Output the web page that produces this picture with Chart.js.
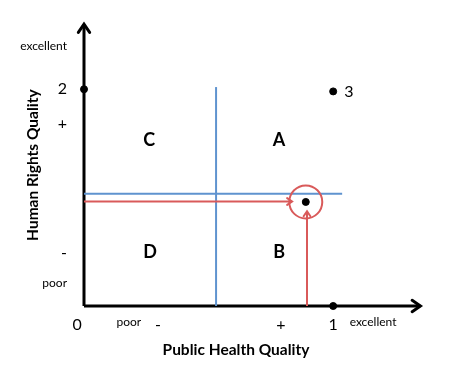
<!DOCTYPE html>
<html>
<head>
<meta charset="utf-8">
<script src="https://cdn.jsdelivr.net/npm/chart.js@4"></script>
<style>
  html, body { margin: 0; padding: 0; background: #fff; }
  #wrap { width: 453px; height: 375px; }
</style>
</head>
<body>
<div id="wrap"><canvas id="quadrant"></canvas></div>
<script>
// points on the plane (public health, human rights)
const pointX = [0, 1, 1, 0.89]
const pointY = [1, 0.99, 0, 0.48]
const pointNames = ['', '3', '', '']

// quadrant letters
const quadNames = ['C', 'A', 'D', 'B']
const quadX = [0.262, 0.783, 0.265, 0.783]
const quadY = [0.766, 0.766, 0.248, 0.248]

// axis tick labels
const xTickValues = [-0.028, 0.18, 0.297, 0.79, 1, 1.16]
const xTickLabels = ['0', 'poor', '-', '+', '1', 'excellent']
const yTickValues = [1.197, 1, 0.84, 0.243, 0.105]
const yTickLabels = ['excellent', '2', '+', '-', 'poor']

// dividing lines (blue) and the two red arrows
const blueVX = [0.53, 0.53]
const blueVY = [0, 1.01]
const blueHX = [0, 1.036]
const blueHY = [0.518, 0.518]
const redHX = [0, 0.835]
const redHY = [0.482, 0.482]
const redVX = [0.895, 0.895]
const redVY = [0, 0.437]

// the axes themselves
const axisXX = [0, 1.35]
const axisXY = [0, 0]
const axisYX = [0, 0]
const axisYY = [0, 1.3]

const FONT = 'Lato, "Open Sans", sans-serif'
const BLUE = '#5f93cf'
const RED = '#d95a5a'

function toPoints(xs, ys) {
    let data = []
    for (let i = 0; i < xs.length; i++) {
        data.push({x: xs[i], y: ys[i]})
    }
    return data
}

function lineSet(xs, ys, color, width, arrow) {
    return {
        type: 'line',
        data: toPoints(xs, ys),
        borderColor: color,
        borderWidth: width,
        pointRadius: 0,
        fill: false,
        clip: false,
        arrowHead: arrow // custom, read by the arrow plugin
    }
}

function tickFont(label) {
    if (label === 'poor' || label === 'excellent') return {family: FONT, size: 12}
    if (label === '+' || label === '-') return {family: FONT, size: 16}
    return {family: FONT, size: 16}
}

// draws chevron heads on line datasets that ask for one
const arrowPlugin = {
    id: 'arrows',
    afterDatasetsDraw(chart) {
        const ctx = chart.ctx
        chart.data.datasets.forEach((ds, i) => {
            if (!ds.arrowHead) return
            const pts = chart.getDatasetMeta(i).data
            const a = pts[pts.length - 2], b = pts[pts.length - 1]
            const ang = Math.atan2(b.y - a.y, b.x - a.x)
            const len = ds.arrowHead
            ctx.save()
            ctx.strokeStyle = ds.borderColor
            ctx.lineWidth = ds.borderWidth
            ctx.lineCap = 'round'
            ctx.lineJoin = 'miter'
            ctx.beginPath()
            ctx.moveTo(b.x - len * Math.cos(ang - 0.6), b.y - len * Math.sin(ang - 0.6))
            ctx.lineTo(b.x, b.y)
            ctx.lineTo(b.x - len * Math.cos(ang + 0.6), b.y - len * Math.sin(ang + 0.6))
            ctx.stroke()
            ctx.restore()
        })
    }
}

// quadrant letters and the point name next to point 3
const labelPlugin = {
    id: 'labels',
    afterDatasetsDraw(chart) {
        const ctx = chart.ctx
        const sx = chart.scales.x, sy = chart.scales.y
        ctx.save()
        ctx.fillStyle = '#000'
        ctx.textAlign = 'center'
        ctx.textBaseline = 'middle'
        ctx.font = 'bold 18px ' + FONT
        for (let i = 0; i < quadNames.length; i++) {
            ctx.fillText(quadNames[i], sx.getPixelForValue(quadX[i]), sy.getPixelForValue(quadY[i]))
        }
        ctx.textAlign = 'left'
        ctx.font = '16px ' + FONT
        for (let i = 0; i < pointNames.length; i++) {
            if (!pointNames[i]) continue
            ctx.fillText(pointNames[i], sx.getPixelForValue(pointX[i]) + 11, sy.getPixelForValue(pointY[i]))
        }
        ctx.restore()
    }
}

window.addEventListener('DOMContentLoaded', () => {
    const datasets = [
        {
            type: 'scatter',
            data: toPoints(pointX, pointY),
            backgroundColor: '#000',
            borderColor: '#000',
            pointRadius: 3.5,
            clip: false
        },
        {
            type: 'scatter',
            data: toPoints([pointX[3]], [pointY[3]]),
            backgroundColor: 'rgba(0,0,0,0)',
            borderColor: RED,
            borderWidth: 2,
            pointRadius: 16.5,
            clip: false
        },
        lineSet(redHX, redHY, RED, 2, 6),
        lineSet(redVX, redVY, RED, 2, 6),
        lineSet(blueHX, blueHY, BLUE, 2, 0),
        lineSet(blueVX, blueVY, BLUE, 2, 0),
        lineSet(axisXX, axisXY, '#000', 3, 10),
        lineSet(axisYX, axisYY, '#000', 3, 10)
    ]

    new Chart(document.querySelector('#quadrant'), {
        type: 'scatter',
        data: {datasets: datasets},
        options: {
            responsive: true,
            maintainAspectRatio: false,
            animation: false,
            events: [],
            layout: {padding: {top: 22, right: 65, left: 0, bottom: 0}},
            plugins: {legend: {display: false}, tooltip: {enabled: false}},
            scales: {
                x: {
                    type: 'linear',
                    min: 0,
                    max: 1.22,
                    grid: {display: false, drawTicks: false},
                    border: {display: false},
                    afterBuildTicks: (s) => { s.ticks = xTickValues.map(v => ({value: v})) },
                    afterFit: (s) => { s.height = 69 },
                    ticks: {
                        autoSkip: false,
                        maxRotation: 0,
                        padding: 9,
                        color: '#000',
                        callback: (v, i) => xTickLabels[i],
                        font: (c) => tickFont(xTickLabels[c.index])
                    },
                    title: {
                        display: true,
                        text: 'Public Health Quality',
                        color: '#000',
                        font: {family: FONT, size: 15.5, weight: 'bold'},
                        padding: {bottom: 15.7, top: 0}
                    }
                },
                y: {
                    type: 'linear',
                    min: 0,
                    max: 1.3,
                    grid: {display: false, drawTicks: false},
                    border: {display: false},
                    afterBuildTicks: (s) => { s.ticks = yTickValues.map(v => ({value: v})) },
                    afterFit: (s) => { s.width = 84 },
                    ticks: {
                        autoSkip: false,
                        padding: 17,
                        color: '#000',
                        callback: (v, i) => yTickLabels[i],
                        font: (c) => tickFont(yTickLabels[c.index])
                    },
                    title: {
                        display: true,
                        text: 'Human Rights Quality',
                        color: '#000',
                        font: {family: FONT, size: 15.5, weight: 'bold'},
                        padding: {top: 23.7, bottom: 0}
                    }
                }
            }
        },
        plugins: [arrowPlugin, labelPlugin]
    })
})
</script>
</body>
</html>
